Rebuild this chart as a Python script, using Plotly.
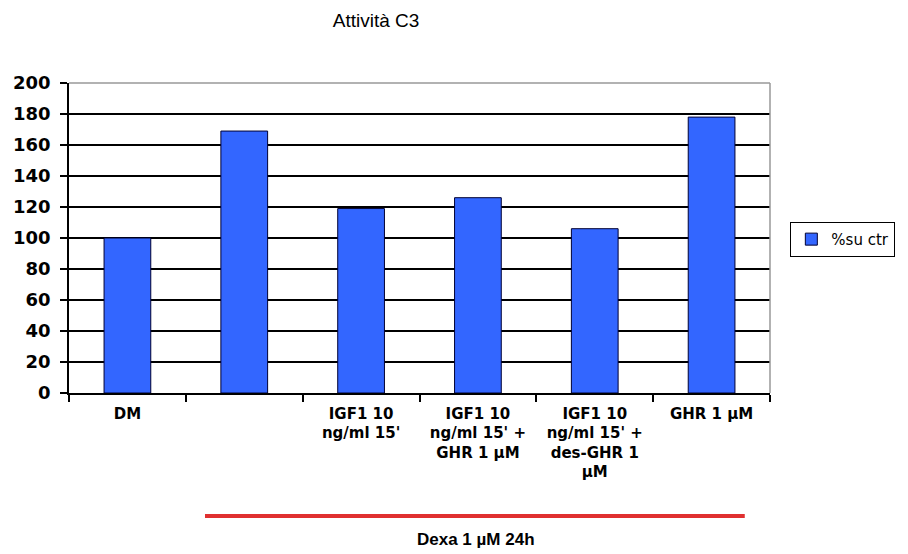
import plotly.graph_objects as go

categories = ["DM", " ", "IGF1 10<br>ng/ml 15'", "IGF1 10<br>ng/ml 15' +<br>GHR 1 µM",
              "IGF1 10<br>ng/ml 15' +<br>des-GHR 1<br>µM", "GHR 1 µM"]
values = [100, 169, 119, 126, 106, 178]
series_name = "%su ctr"
y_ticks = [0, 20, 40, 60, 80, 100, 120, 140, 160, 180, 200]
title = "Attività C3"
group_label = "Dexa 1 µM 24h"

fig = go.Figure()
fig.add_trace(go.Bar(
    x=categories, y=values, name=series_name,
    marker=dict(color="#3366FF", line=dict(color="#000033", width=1)),
    width=0.4, showlegend=True,
))

fig.update_layout(
    width=900, height=546,
    margin=dict(l=61, r=138, t=75, b=161),
    paper_bgcolor="white", plot_bgcolor="white",
    title=dict(text=title, x=368 / 900, xanchor="center", y=1 - 12 / 546, yanchor="middle",
               font=dict(family="Liberation Sans, Arial", size=19, color="black")),
    font=dict(family="Liberation Sans, Arial", color="black"),
    legend=dict(x=1.029, y=0.552, xanchor="left", yanchor="top",
                bordercolor="black", borderwidth=1, bgcolor="white",
                font=dict(size=15, family="DejaVu Sans", color="black"),
                itemwidth=30, tracegroupgap=0),
    xaxis=dict(
        type="category", categoryorder="array", categoryarray=categories,
        showline=True, linecolor="black", linewidth=1.5,
        ticks="outside", tickson="boundaries", ticklen=7, tickcolor="black", tickwidth=1.5,
        showgrid=False, ticklabelstandoff=6, automargin=False,
        tickfont=dict(size=15, family="DejaVu Sans", color="black", weight="bold"),
    ),
    yaxis=dict(
        range=[0, 200], tickvals=y_ticks, ticks="outside", ticklen=7,
        tickcolor="black", tickwidth=1.5,
        showline=True, linecolor="black", linewidth=1.5,
        showgrid=True, gridcolor="black", gridwidth=1.5,
        zeroline=False, ticklabelstandoff=6, automargin=False,
        tickfont=dict(size=18, family="DejaVu Sans", color="black", weight="bold"),
    ),
)

# plot border (top/right grey)
fig.add_shape(type="line", xref="paper", yref="paper", x0=0, x1=1, y0=1, y1=1,
              line=dict(color="#999999", width=1.5))
fig.add_shape(type="line", xref="paper", yref="paper", x0=1, x1=1, y0=0, y1=1,
              line=dict(color="#999999", width=1.5))

# red group line and label
fig.add_shape(type="line", xref="paper", yref="paper", x0=0.194, x1=0.964, y0=-0.397, y1=-0.397,
              line=dict(color="#E03030", width=4))
fig.add_annotation(text=group_label, xref="paper", yref="paper", x=0.581, y=-0.474,
                   showarrow=False, xanchor="center", yanchor="middle",
                   font=dict(size=17, family="Liberation Sans, Arial", color="black", weight="bold"))

fig.write_html("out.html")
